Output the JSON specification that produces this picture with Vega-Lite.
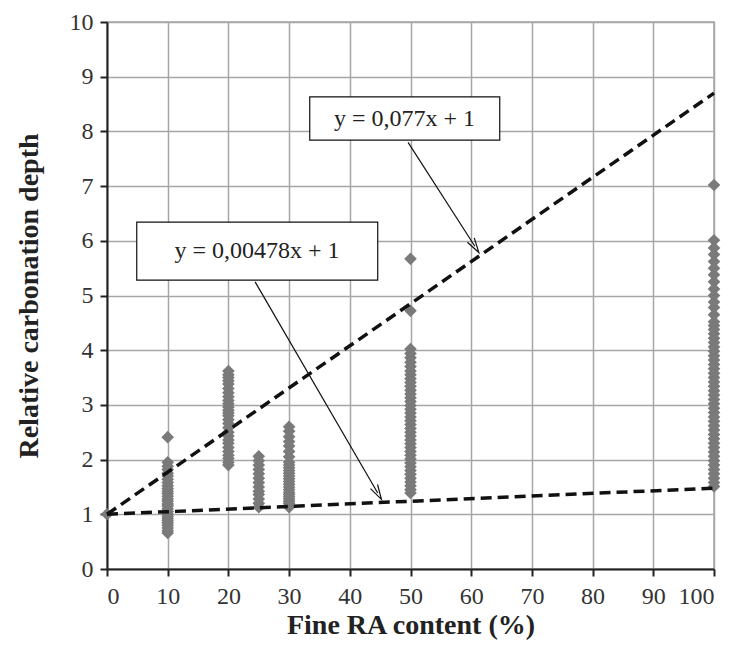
{
  "$schema": "https://vega.github.io/schema/vega-lite/v6.json",
  "autosize": "none",
  "width": 607,
  "height": 547,
  "padding": {"left": 107, "top": 22, "right": 22, "bottom": 81},
  "background": "white",
  "config": {
    "view": {"stroke": "#a6a6a6", "strokeWidth": 1.5},
    "axis": {
      "gridColor": "#a6a6a6",
      "gridWidth": 1.5,
      "gridOpacity": 1,
      "domainColor": "#222",
      "domainWidth": 2,
      "tickColor": "#222",
      "tickWidth": 2,
      "tickSize": 7,
      "labelFont": "Liberation Serif",
      "labelFontSize": 24,
      "labelColor": "#333",
      "titleFont": "Liberation Serif",
      "titleFontSize": 28,
      "titleFontWeight": "bold",
      "titleColor": "#222"
    }
  },
  "datasets": {
    "pts": [
      {"x": 0, "y": 1.0},
      {"x": 10, "y": 2.41}, {"x": 10, "y": 1.95}, {"x": 10, "y": 1.88}, {"x": 10, "y": 1.82}, {"x": 10, "y": 1.75}, {"x": 10, "y": 1.70}, {"x": 10, "y": 1.64}, {"x": 10, "y": 1.58}, {"x": 10, "y": 1.52}, {"x": 10, "y": 1.47}, {"x": 10, "y": 1.42}, {"x": 10, "y": 1.38}, {"x": 10, "y": 1.33}, {"x": 10, "y": 1.28}, {"x": 10, "y": 1.24}, {"x": 10, "y": 1.19}, {"x": 10, "y": 1.15}, {"x": 10, "y": 1.10}, {"x": 10, "y": 1.05}, {"x": 10, "y": 1.00}, {"x": 10, "y": 0.96}, {"x": 10, "y": 0.92}, {"x": 10, "y": 0.88}, {"x": 10, "y": 0.84}, {"x": 10, "y": 0.80}, {"x": 10, "y": 0.75}, {"x": 10, "y": 0.70}, {"x": 10, "y": 0.66},
      {"x": 20, "y": 3.62}, {"x": 20, "y": 3.55}, {"x": 20, "y": 3.50}, {"x": 20, "y": 3.44}, {"x": 20, "y": 3.38}, {"x": 20, "y": 3.30}, {"x": 20, "y": 3.22}, {"x": 20, "y": 3.15}, {"x": 20, "y": 3.08}, {"x": 20, "y": 3.02}, {"x": 20, "y": 2.96}, {"x": 20, "y": 2.90}, {"x": 20, "y": 2.85}, {"x": 20, "y": 2.80}, {"x": 20, "y": 2.73}, {"x": 20, "y": 2.66}, {"x": 20, "y": 2.58}, {"x": 20, "y": 2.50}, {"x": 20, "y": 2.43}, {"x": 20, "y": 2.36}, {"x": 20, "y": 2.30}, {"x": 20, "y": 2.22}, {"x": 20, "y": 2.15}, {"x": 20, "y": 2.08}, {"x": 20, "y": 2.02}, {"x": 20, "y": 1.95}, {"x": 20, "y": 1.90},
      {"x": 25, "y": 2.06}, {"x": 25, "y": 1.98}, {"x": 25, "y": 1.90}, {"x": 25, "y": 1.82}, {"x": 25, "y": 1.74}, {"x": 25, "y": 1.66}, {"x": 25, "y": 1.58}, {"x": 25, "y": 1.50}, {"x": 25, "y": 1.42}, {"x": 25, "y": 1.36}, {"x": 25, "y": 1.28}, {"x": 25, "y": 1.20}, {"x": 25, "y": 1.13},
      {"x": 30, "y": 2.60}, {"x": 30, "y": 2.52}, {"x": 30, "y": 2.42}, {"x": 30, "y": 2.33}, {"x": 30, "y": 2.25}, {"x": 30, "y": 2.15}, {"x": 30, "y": 2.05}, {"x": 30, "y": 1.95}, {"x": 30, "y": 1.90}, {"x": 30, "y": 1.85}, {"x": 30, "y": 1.80}, {"x": 30, "y": 1.75}, {"x": 30, "y": 1.70}, {"x": 30, "y": 1.65}, {"x": 30, "y": 1.60}, {"x": 30, "y": 1.55}, {"x": 30, "y": 1.50}, {"x": 30, "y": 1.45}, {"x": 30, "y": 1.40}, {"x": 30, "y": 1.36}, {"x": 30, "y": 1.32}, {"x": 30, "y": 1.28}, {"x": 30, "y": 1.24}, {"x": 30, "y": 1.20}, {"x": 30, "y": 1.16}, {"x": 30, "y": 1.13},
      {"x": 50, "y": 5.67}, {"x": 50, "y": 4.72}, {"x": 50, "y": 4.02}, {"x": 50, "y": 3.94}, {"x": 50, "y": 3.86}, {"x": 50, "y": 3.78}, {"x": 50, "y": 3.70}, {"x": 50, "y": 3.62}, {"x": 50, "y": 3.55}, {"x": 50, "y": 3.48}, {"x": 50, "y": 3.41}, {"x": 50, "y": 3.34}, {"x": 50, "y": 3.27}, {"x": 50, "y": 3.20}, {"x": 50, "y": 3.13}, {"x": 50, "y": 3.06}, {"x": 50, "y": 2.99}, {"x": 50, "y": 2.92}, {"x": 50, "y": 2.85}, {"x": 50, "y": 2.78}, {"x": 50, "y": 2.71}, {"x": 50, "y": 2.64}, {"x": 50, "y": 2.57}, {"x": 50, "y": 2.50}, {"x": 50, "y": 2.43}, {"x": 50, "y": 2.36}, {"x": 50, "y": 2.29}, {"x": 50, "y": 2.22}, {"x": 50, "y": 2.15}, {"x": 50, "y": 2.08}, {"x": 50, "y": 2.01}, {"x": 50, "y": 1.94}, {"x": 50, "y": 1.87}, {"x": 50, "y": 1.80}, {"x": 50, "y": 1.73}, {"x": 50, "y": 1.66}, {"x": 50, "y": 1.59}, {"x": 50, "y": 1.52}, {"x": 50, "y": 1.45}, {"x": 50, "y": 1.39},
      {"x": 100, "y": 7.02}, {"x": 100, "y": 6.01}, {"x": 100, "y": 5.87}, {"x": 100, "y": 5.75}, {"x": 100, "y": 5.62}, {"x": 100, "y": 5.50}, {"x": 100, "y": 5.38}, {"x": 100, "y": 5.25}, {"x": 100, "y": 5.12}, {"x": 100, "y": 5.00}, {"x": 100, "y": 4.88}, {"x": 100, "y": 4.78}, {"x": 100, "y": 4.65}, {"x": 100, "y": 4.52}, {"x": 100, "y": 4.45}, {"x": 100, "y": 4.38}, {"x": 100, "y": 4.30}, {"x": 100, "y": 4.22}, {"x": 100, "y": 4.14}, {"x": 100, "y": 4.06}, {"x": 100, "y": 3.98}, {"x": 100, "y": 3.90}, {"x": 100, "y": 3.82}, {"x": 100, "y": 3.74}, {"x": 100, "y": 3.66}, {"x": 100, "y": 3.58}, {"x": 100, "y": 3.50}, {"x": 100, "y": 3.42}, {"x": 100, "y": 3.34}, {"x": 100, "y": 3.26}, {"x": 100, "y": 3.18}, {"x": 100, "y": 3.10}, {"x": 100, "y": 3.02}, {"x": 100, "y": 2.94}, {"x": 100, "y": 2.86}, {"x": 100, "y": 2.78}, {"x": 100, "y": 2.70}, {"x": 100, "y": 2.62}, {"x": 100, "y": 2.54}, {"x": 100, "y": 2.46}, {"x": 100, "y": 2.38}, {"x": 100, "y": 2.30}, {"x": 100, "y": 2.22}, {"x": 100, "y": 2.14}, {"x": 100, "y": 2.06}, {"x": 100, "y": 1.98}, {"x": 100, "y": 1.90}, {"x": 100, "y": 1.82}, {"x": 100, "y": 1.74}, {"x": 100, "y": 1.66}, {"x": 100, "y": 1.58}, {"x": 100, "y": 1.51}
    ],
    "fits": [
      {"fit": "a", "x": 0, "y": 1.0}, {"fit": "a", "x": 100, "y": 8.7},
      {"fit": "b", "x": 0, "y": 1.0}, {"fit": "b", "x": 100, "y": 1.478}
    ],
    "boxes": [
      {"label": "y = 0,077x + 1", "x1": 33.4, "x2": 64.7, "y1": 7.84, "y2": 8.63, "tx": 49.0, "ty": 8.235},
      {"label": "y = 0,00478x + 1", "x1": 4.9, "x2": 44.6, "y1": 5.28, "y2": 6.34, "tx": 24.7, "ty": 5.81}
    ],
    "arrows": [
      {"id": "a", "x1": 49.6, "y1": 7.80, "x2": 60.6, "y2": 5.90},
      {"id": "b", "x1": 24.4, "y1": 5.25, "x2": 44.6, "y2": 1.39}
    ]
  },
  "encoding": {
    "x": {"type": "quantitative", "scale": {"domain": [0, 100], "nice": false}},
    "y": {"type": "quantitative", "scale": {"domain": [0, 10], "nice": false}}
  },
  "layer": [
    {
      "data": {"name": "pts"},
      "mark": {"type": "point", "shape": "diamond", "filled": true, "color": "#7a7a7a", "opacity": 1, "size": 160},
      "encoding": {
        "x": {"field": "x", "type": "quantitative", "scale": {"domain": [0, 100], "nice": false},
          "axis": {"values": [0, 10, 20, 30, 40, 50, 60, 70, 80, 90, 100], "title": "Fine RA content (%)", "labelPadding": 8, "titlePadding": 3}},
        "y": {"field": "y", "type": "quantitative", "scale": {"domain": [0, 10], "nice": false},
          "axis": {"values": [0, 1, 2, 3, 4, 5, 6, 7, 8, 9, 10], "title": "Relative carbonation depth", "labelPadding": 7, "titlePadding": 26}}
      }
    },
    {
      "data": {"name": "fits"},
      "mark": {"type": "line", "color": "#111", "strokeWidth": 3.5, "strokeDash": [11, 6]},
      "encoding": {
        "x": {"field": "x", "type": "quantitative"},
        "y": {"field": "y", "type": "quantitative"},
        "detail": {"field": "fit"}
      }
    },
    {
      "data": {"name": "boxes"},
      "mark": {"type": "rect", "fill": "white", "stroke": "#111", "strokeWidth": 1.2},
      "encoding": {
        "x": {"field": "x1", "type": "quantitative"},
        "x2": {"field": "x2"},
        "y": {"field": "y1", "type": "quantitative"},
        "y2": {"field": "y2"}
      }
    },
    {
      "data": {"name": "boxes"},
      "mark": {"type": "text", "font": "Liberation Serif", "fontSize": 24, "color": "#222", "align": "center", "baseline": "middle"},
      "encoding": {
        "x": {"field": "tx", "type": "quantitative"},
        "y": {"field": "ty", "type": "quantitative"},
        "text": {"field": "label"}
      }
    },
    {
      "data": {"name": "arrows"},
      "mark": {"type": "rule", "color": "#111", "strokeWidth": 1.2},
      "encoding": {
        "x": {"field": "x1", "type": "quantitative"},
        "y": {"field": "y1", "type": "quantitative"},
        "x2": {"field": "x2"},
        "y2": {"field": "y2"}
      }
    },
    {
      "data": {"name": "arrows"},
      "transform": [{"filter": "datum.id === 'a'"}],
      "mark": {"type": "point", "shape": "M-0.55,1L0,-1L0.55,1", "filled": false, "color": "#111", "strokeWidth": 1.2, "size": 220, "angle": 147, "opacity": 1},
      "encoding": {
        "x": {"field": "x2", "type": "quantitative"},
        "y": {"field": "y2", "type": "quantitative"}
      }
    },
    {
      "data": {"name": "arrows"},
      "transform": [{"filter": "datum.id === 'b'"}],
      "mark": {"type": "point", "shape": "M-0.55,1L0,-1L0.55,1", "filled": false, "color": "#111", "strokeWidth": 1.2, "size": 220, "angle": 150, "opacity": 1},
      "encoding": {
        "x": {"field": "x2", "type": "quantitative"},
        "y": {"field": "y2", "type": "quantitative"}
      }
    }
  ]
}
